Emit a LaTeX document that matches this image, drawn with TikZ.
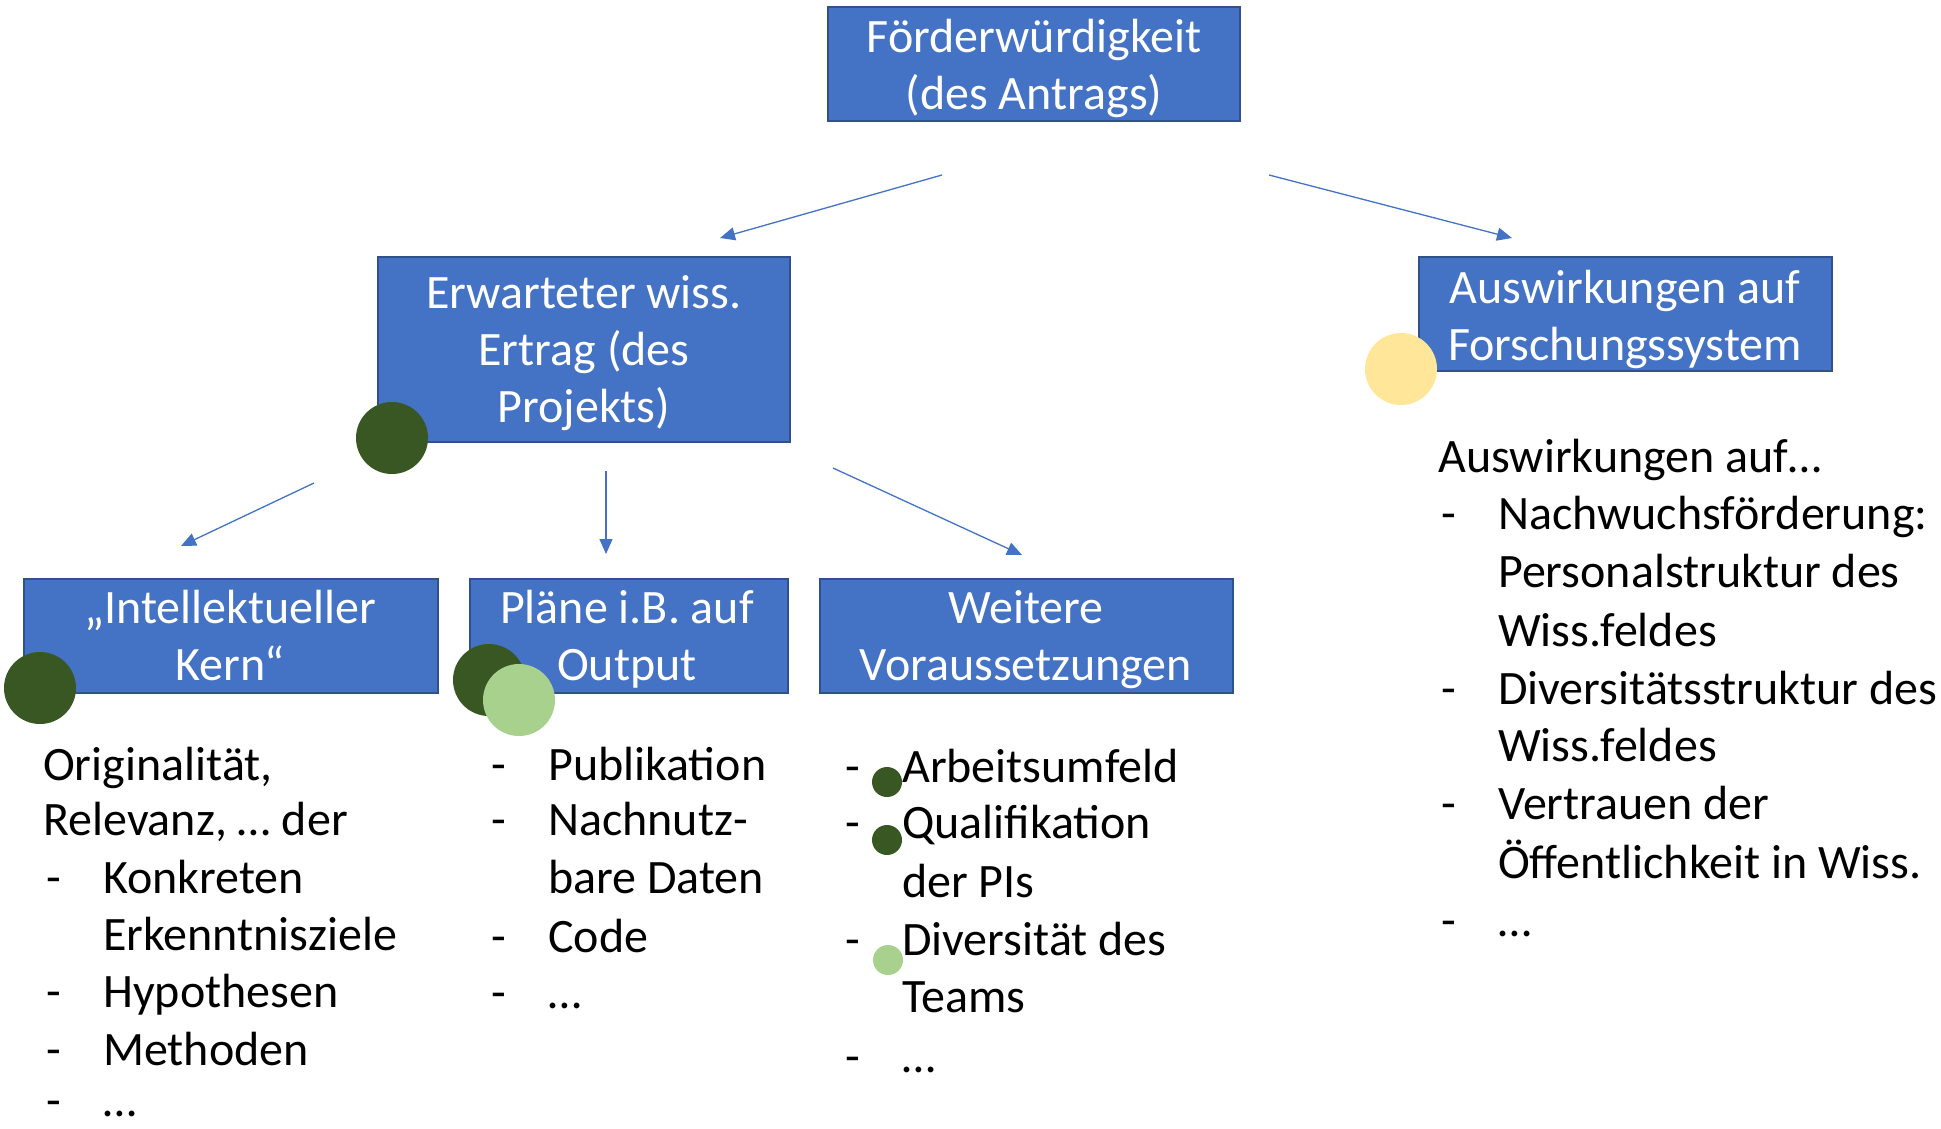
\documentclass[tikz,border=0pt]{standalone}
\usepackage{fontspec}
\setmainfont{Carlito}
\usetikzlibrary{arrows.meta}
\definecolor{boxblue}{HTML}{4472C4}
\definecolor{boxedge}{HTML}{2F528F}
\definecolor{dkgreen}{HTML}{385723}
\definecolor{ltgreen}{HTML}{A9D18E}
\definecolor{ltyellow}{HTML}{FFE699}
\begin{document}
\begin{tikzpicture}[x=1pt,y=-1pt,
  bx/.style={draw=boxedge, line width=2.5pt, fill=boxblue, inner sep=0pt},
  bxt/.style={inner sep=0pt, anchor=base, text=white, align=flush center, text width=#1,
    font=\fontsize{48}{57}\selectfont},
  lt/.style={inner sep=0pt, anchor=base west, font=\fontsize{48}{57}\selectfont},
  blob/.style={circle, inner sep=0pt, minimum size=#1},
  conn/.style={draw=boxblue, line width=1.3pt, -{Triangle[length=15pt,width=13pt]}},
]
\useasboundingbox (0,0) rectangle (1941,1128);
\fill[white] (0,0) rectangle (1941,1128);

% boxes
\node[bx, minimum width=412, minimum height=114] (top) at (1034,64) {};
\node[bx, minimum width=412, minimum height=185] (erw) at (584,349.5) {};
\node[bx, minimum width=413, minimum height=114] (ausw) at (1625.5,314) {};
\node[bx, minimum width=414, minimum height=114] (intel) at (231,636) {};
\node[bx, minimum width=318, minimum height=114] (plaene) at (629,636) {};
\node[bx, minimum width=413, minimum height=114] (weit) at (1026.5,636) {};

% box texts (anchored at the baseline of the first line)
\node[bxt=400] (topt) at (1034,52) {Förderwürdigkeit\\(des Antrags)};
\node[bxt=400] (erwt) at (584,308) {Erwarteter wiss.\\Ertrag (des\\Projekts)};
\node[bxt=400] (auswt) at (1625,303) {Auswirkungen auf\\Forschungssystem};
\node[bxt=400] (intelt) at (230,623) {„Intellektueller\\Kern“};
\node[bxt=310] (plaenet) at (627,623) {Pläne i.B. auf\\Output};
\node[bxt=400] (weitt) at (1026,623) {Weitere\\Voraussetzungen};

% connectors
\coordinate (a1s) at (942,175); \coordinate (a1e) at (720,238);
\coordinate (a2s) at (1269,175); \coordinate (a2e) at (1512,238);
\coordinate (a3s) at (314,483); \coordinate (a3e) at (181,546);
\coordinate (a4s) at (606,471); \coordinate (a4e) at (606,554);
\coordinate (a5s) at (833,468); \coordinate (a5e) at (1022,555);
\draw[conn] (a1s) -- (a1e);
\draw[conn] (a2s) -- (a2e);
\draw[conn] (a3s) -- (a3e);
\draw[conn] (a4s) -- (a4e);
\draw[conn] (a5s) -- (a5e);

% left list
\node[lt] (l1) at (43,780) {Originalität,};
\node[lt] (l2) at (43,835) {Relevanz, … der};
\node[lt] (l3d) at (46,893) {-};
\node[lt] (l3) at (103,893) {Konkreten};
\node[lt] (l4) at (103,950) {Erkenntnisziele};
\node[lt] (l5d) at (46,1007) {-};
\node[lt] (l5) at (103,1007) {Hypothesen};
\node[lt] (l6d) at (46,1065) {-};
\node[lt] (l6) at (103,1065) {Methoden};
\node[lt] (l7d) at (46,1116) {-};
\node[lt] (l7) at (103,1116) {…};

% middle list
\node[lt] (m1d) at (491,780) {-};
\node[lt] (m1) at (548,780) {Publikation};
\node[lt] (m2d) at (491,835) {-};
\node[lt] (m2) at (548,835) {Nachnutz-};
\node[lt] (m3) at (548,893) {bare Daten};
\node[lt] (m4d) at (491,952) {-};
\node[lt] (m4) at (548,952) {Code};
\node[lt] (m5d) at (491,1008) {-};
\node[lt] (m5) at (548,1008) {…};

% right-middle list
\node[lt] (r1d) at (845,782) {-};
\node[lt] (r1) at (902,782) {Arbeitsumfeld};
\node[lt] (r2d) at (845,838) {-};
\node[lt] (r2) at (902,838) {Qualifikation};
\node[lt] (r3) at (902,897) {der PIs};
\node[lt] (r4d) at (845,955) {-};
\node[lt] (r4) at (902,955) {Diversität des};
\node[lt] (r5) at (902,1012) {Teams};
\node[lt] (r6d) at (845,1072) {-};
\node[lt] (r6) at (902,1072) {…};

% right list
\node[lt] (s0) at (1438,472) {Auswirkungen auf…};
\node[lt] (s1d) at (1441,529) {-};
\node[lt] (s1) at (1498,529) {Nachwuchsförderung:};
\node[lt] (s2) at (1498,587) {Personalstruktur des};
\node[lt] (s3) at (1498,646) {Wiss.feldes};
\node[lt] (s4d) at (1441,704) {-};
\node[lt] (s4) at (1498,704) {Diversitätsstruktur des};
\node[lt] (s5) at (1498,761) {Wiss.feldes};
\node[lt] (s6d) at (1441,819) {-};
\node[lt] (s6) at (1498,819) {Vertrauen der};
\node[lt] (s7) at (1498,878) {Öffentlichkeit in Wiss.};
\node[lt] (s8d) at (1441,936) {-};
\node[lt] (s8) at (1498,936) {…};

% circles
\node[blob=72, fill=dkgreen] (c1) at (392,438) {};
\node[blob=72, fill=dkgreen] (c2) at (40,688) {};
\node[blob=72, fill=dkgreen] (c3) at (489,680) {};
\node[blob=72, fill=ltgreen] (c4) at (519,700) {};
\node[blob=72, fill=ltyellow] (c5) at (1401,369) {};
\node[blob=30, fill=dkgreen] (b1) at (887,782) {};
\node[blob=30, fill=dkgreen] (b2) at (887,840) {};
\node[blob=30, fill=ltgreen] (b3) at (888,960) {};
\end{tikzpicture}
\end{document}
